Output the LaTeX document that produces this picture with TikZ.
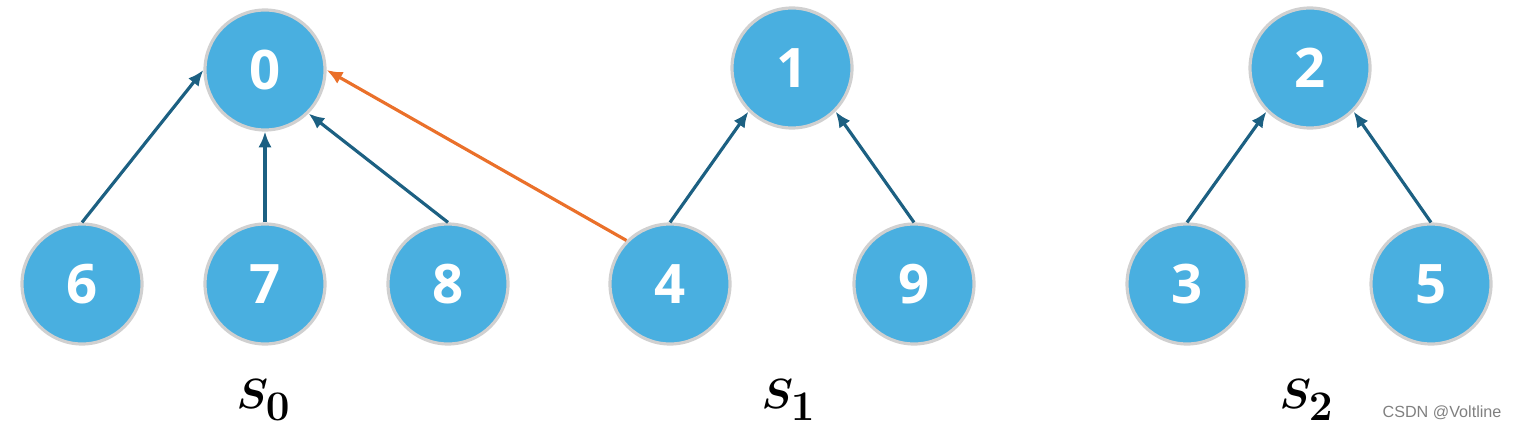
\documentclass[tikz,border=0pt]{standalone}
\usepackage{amsmath,amssymb}
\usepackage{fontspec}
\setsansfont{Open Sans}
\newfontfamily\markfont{Liberation Sans}
\usepackage{tikz}
\usetikzlibrary{arrows.meta,positioning}
\definecolor{nodeblue}{RGB}{73,175,224}
\definecolor{rimgray}{RGB}{208,208,208}
\definecolor{linkblue}{RGB}{28,96,130}
\definecolor{unionorange}{RGB}{234,112,42}

\begin{document}
\begin{tikzpicture}[>={Latex[length=4.5pt,width=3.8pt]}]
  \tikzset{
    elem/.style={circle,draw=rimgray,line width=0.9pt,fill=nodeblue,
                 minimum size=1.2cm,inner sep=0pt,text=white,
                 font=\sffamily\bfseries\fontsize{15.5}{18}\selectfont},
    link/.style={->,draw=linkblue,line width=0.9pt},
    merge/.style={->,draw=unionorange,line width=0.9pt},
    setname/.style={font=\fontsize{12}{14}\selectfont}
  }
  \useasboundingbox (0,0) rectangle (15.16,4.27);
  % roots
  \node[elem] (n0) at (2.65,3.57) {0};
  \node[elem] (n1) at (7.92,3.59) {1};
  \node[elem] (n2) at (13.10,3.59) {2};
  % children
  \node[elem] (n6) at (0.82,1.43) {6};
  \node[elem] (n7) at (2.65,1.43) {7};
  \node[elem] (n8) at (4.48,1.43) {8};
  \node[elem] (n4) at (6.70,1.43) {4};
  \node[elem] (n9) at (9.14,1.43) {9};
  \node[elem] (n3) at (11.87,1.43) {3};
  \node[elem] (n5) at (14.31,1.43) {5};
  % parent links
  \draw[link] (n6.north) -- (n0.west);
  \draw[link] (n7.north) -- (n0.south);
  \draw[link] (n8.north) -- (n0.south east);
  \draw[link] (n4.north) -- (n1.south west);
  \draw[link] (n9.north) -- (n1.south east);
  \draw[link] (n3.north) -- (n2.south west);
  \draw[link] (n5.north) -- (n2.south east);
  \draw[merge] (n4.north west) -- (n0.east);
  % set labels
  \node[setname] (s0) at (2.64,0.27) {$\boldsymbol{S_{\textstyle 0}}$};
  \node[setname] (s1) at (7.89,0.27) {$\boldsymbol{S_{\textstyle 1}}$};
  \node[setname] (s2) at (13.07,0.27) {$\boldsymbol{S_{\textstyle 2}}$};
  \node[font=\markfont\fontsize{4.6}{5}\selectfont,text=black!50] (mark) at (14.42,0.14) {CSDN @Voltline};
\end{tikzpicture}
\end{document}
